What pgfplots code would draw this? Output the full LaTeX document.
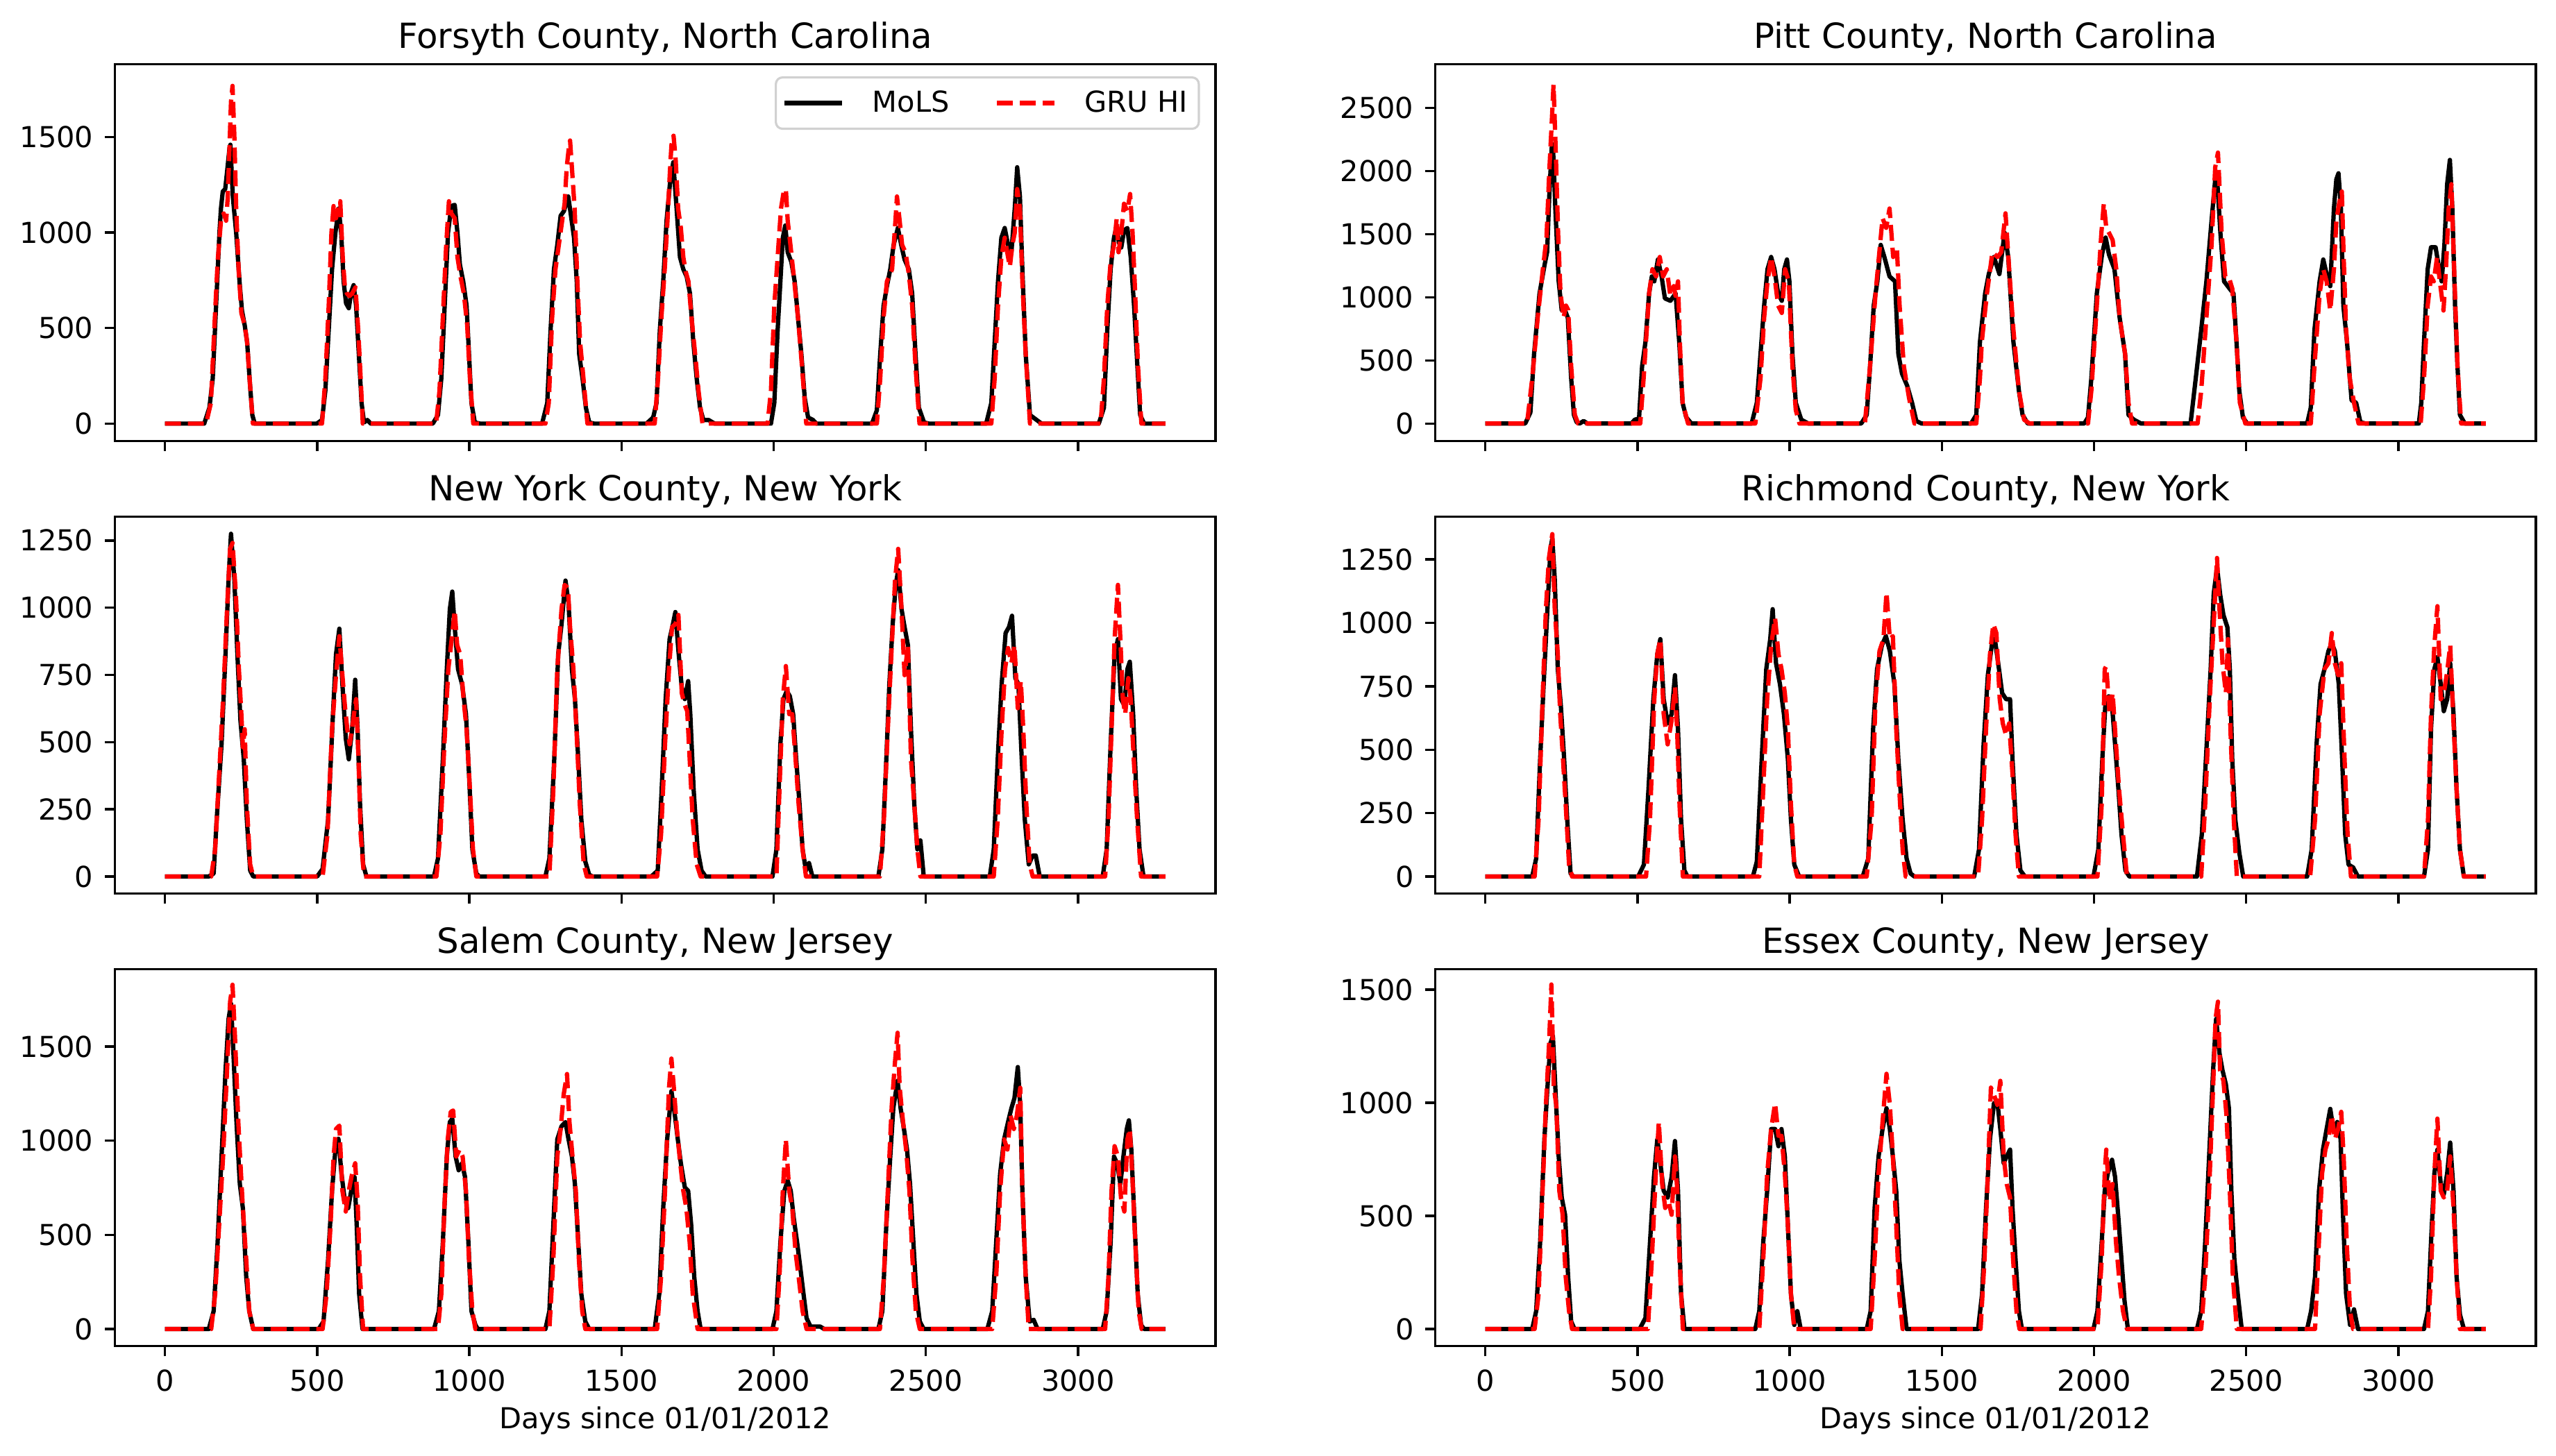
\documentclass[border=0pt]{standalone}
\usepackage{fontspec}
\setmainfont{DejaVu Sans}
\usepackage{pgfplots}
\pgfplotsset{compat=1.18}
\begin{document}
\begin{tikzpicture}
\path[use as bounding box] (-51.8pt,-49.2pt) rectangle (1100.2pt,606.9pt);
\pgfplotsset{
 panel/.style={
  scale only axis, width=496pt, height=170pt,
  xmin=-164.35, xmax=3451.35,
  axis line style={line width=1.04pt},
  tick align=outside, tick pos=left, major tick length=4.55pt,
  every tick/.style={black, line width=1.04pt},
  xtick={0,500,...,3000},
  ticklabel style={font=\fontsize{13}{15.6}\selectfont},
  yticklabel style={inner sep=0pt, xshift=-5pt},
  xticklabel style={inner sep=0pt, yshift=-6pt},
  /pgf/number format/assume math mode=true, /pgf/number format/1000 sep={},
  scaled ticks=false,
  title style={font=\fontsize{15.6}{18.7}\selectfont, at={(0.5,1)}, anchor=base, yshift=1.1pt},
  xlabel style={font=\fontsize{13}{15.6}\selectfont, at={(axis description cs:0.5,0)}, anchor=base, yshift=-37pt},
 },
 nolab/.style={xticklabels={,,,,,,}},
 mols/.style={black, line width=1.95pt, line join=round},
 gru/.style={red, line width=1.95pt, dash pattern=on 7.2pt off 3.1pt, line join=round},
}
% ---------------- Forsyth
\begin{axis}[panel, nolab, at={(0pt,408pt)}, anchor=south west,
  title={Forsyth County, North Carolina}, ymin=-92, ymax=1882, ytick={0,500,1000,1500},
  legend style={at={(0.9859,0.9676)}, anchor=north east, draw=black!18, line width=1pt, rounded corners=3pt, fill=white, fill opacity=0.8, text opacity=1, font=\fontsize{13}{15.6}\selectfont, inner xsep=3pt, inner ysep=4pt, /tikz/column 1/.style={column sep=10.6pt}, /tikz/column 2/.style={column sep=18.5pt}, /tikz/column 3/.style={column sep=10.6pt}},
  legend columns=2, legend cell align=left,
  legend image code/.code={\draw[#1] (0pt,0pt) -- (26pt,0pt);}]
\addplot[mols] coordinates {(0,0)(129,0)(146,83)(157,236)(168,617)(179,999)(184,1126)(190,1215)(198,1228)(204,1317)(212,1440)(215,1460)(223,1189)(234,999)(245,744)(253,592)(262,515)(270,426)(278,236)(287,45)(295,0)
(499,0)(516,19)(527,172)(538,490)(549,808)(560,999)(571,1126)(579,999)(587,744)(595,630)(604,604)(613,694)(620,725)(628,617)(637,363)(646,108)(654,6)(665,19)(676,0)
(880,0)(897,45)(908,236)(919,617)(930,999)(941,1139)(952,1145)(961,999)(969,833)(980,744)(991,617)(999,363)(1007,108)(1018,6)(1035,0)
(1239,0)(1256,108)(1267,490)(1278,808)(1289,935)(1300,1088)(1311,1113)(1325,1189)(1333,1100)(1344,973)(1353,744)(1361,363)(1372,236)(1383,83)(1394,6)(1410,0)
(1582,0)(1604,32)(1615,108)(1626,490)(1637,744)(1648,1062)(1659,1253)(1670,1368)(1681,1126)(1692,872)(1703,808)(1714,770)(1725,681)(1736,426)(1747,236)(1758,83)(1769,19)(1786,19)(1806,0)
(1991,0)(2002,108)(2013,490)(2022,744)(2030,973)(2038,1037)(2046,897)(2058,846)(2069,744)(2080,554)(2091,363)(2102,134)(2113,32)(2129,19)(2140,0)
(2323,0)(2339,70)(2350,363)(2361,617)(2372,719)(2383,808)(2394,935)(2408,1024)(2419,935)(2430,859)(2444,808)(2455,681)(2466,363)(2477,83)(2494,6)(2510,0)
(2698,0)(2715,108)(2726,426)(2737,744)(2748,973)(2759,1024)(2770,935)(2781,897)(2792,1126)(2800,1342)(2809,1189)(2817,808)(2828,363)(2842,45)(2858,26)(2880,0)
(3068,0)(3085,83)(3096,490)(3107,808)(3118,973)(3127,1037)(3134,948)(3142,922)(3151,1011)(3162,1024)(3173,872)(3184,617)(3195,299)(3204,45)(3217,0)(3287,0)};
\addlegendentry{MoLS}
\addplot[gru] coordinates {(0,0)(135,0)(151,108)(162,490)(173,846)(184,1062)(193,1100)(201,1062)(206,1177)(212,1444)(217,1686)(222,1768)(228,1507)(234,1126)(242,808)(251,579)(262,515)(270,426)(278,236)(289,0)
(516,0)(527,236)(538,617)(547,999)(554,1139)(562,1075)(569,1126)(576,1164)(584,872)(591,719)(598,681)(606,668)(615,681)(626,713)(635,490)(643,236)(650,0)
(891,0)(902,172)(913,554)(924,935)(933,1164)(941,1100)(952,1075)(961,872)(971,770)(982,681)(993,515)(1002,236)(1013,0)
(1250,0)(1261,108)(1272,554)(1283,808)(1294,935)(1305,1062)(1313,1151)(1320,1342)(1327,1444)(1331,1482)(1338,1317)(1346,1126)(1355,744)(1364,426)(1375,236)(1388,0)
(1609,0)(1620,236)(1631,554)(1642,808)(1651,1062)(1659,1317)(1664,1457)(1671,1507)(1678,1380)(1686,1126)(1695,1024)(1703,872)(1711,795)(1720,744)(1730,554)(1742,363)(1753,172)(1766,0)
(1980,0)(1991,172)(2002,617)(2013,872)(2024,1126)(2033,1215)(2040,1228)(2046,1062)(2055,935)(2066,770)(2080,554)(2093,299)(2107,0)
(2339,0)(2350,236)(2361,554)(2372,744)(2389,808)(2400,1062)(2405,1189)(2413,1075)(2422,935)(2433,897)(2444,783)(2455,617)(2466,299)(2479,0)
(2715,0)(2726,236)(2737,617)(2748,872)(2759,973)(2770,872)(2776,821)(2784,935)(2792,999)(2800,1228)(2809,1126)(2817,744)(2828,363)(2842,0)
(3074,0)(3085,236)(3096,617)(3107,846)(3118,935)(3127,1075)(3133,897)(3142,999)(3151,1151)(3162,1113)(3171,1202)(3179,999)(3186,744)(3197,299)(3208,0)(3287,0)};
\addlegendentry{GRU HI}
\end{axis}
% ---------------- Pitt
\begin{axis}[panel, nolab, at={(595.1pt,408pt)}, anchor=south west,
  title={Pitt County, North Carolina}, ymin=-140, ymax=2847, ytick={0,500,...,2500}]
\addplot[mols] coordinates {(0,0)(131,0)(148,87)(160,549)(178,1030)(195,1261)(203,1357)(210,1800)(218,2184)(222,2210)(230,1703)(241,1126)(251,895)(259,915)(271,838)(282,357)(291,68)(300,10)(310,0)(323,20)(335,0)
(480,0)(491,30)(505,40)(515,453)(526,645)(538,1030)(547,1165)(555,1126)(567,1299)(579,1165)(590,991)(608,972)(625,1030)(637,645)(648,164)(660,49)(677,0)
(875,0)(892,164)(904,549)(916,934)(927,1222)(939,1319)(950,1222)(962,1030)(974,972)(982,1222)(991,1299)(999,1126)(1009,549)(1020,164)(1038,30)(1061,0)
(1235,0)(1253,68)(1264,453)(1276,934)(1288,1126)(1299,1415)(1311,1319)(1328,1165)(1346,1126)(1357,549)(1369,395)(1386,299)(1402,164)(1416,20)(1433,0)
(1596,0)(1613,68)(1625,645)(1642,1030)(1654,1184)(1671,1319)(1689,1184)(1706,1511)(1718,1319)(1735,645)(1753,260)(1765,68)(1782,0)
(1968,0)(1980,49)(1991,357)(2009,1030)(2026,1338)(2038,1473)(2049,1338)(2067,1222)(2084,838)(2102,549)(2113,68)(2131,30)(2154,0)
(2317,0)(2334,357)(2352,741)(2369,1126)(2386,1607)(2398,1934)(2404,1950)(2415,1511)(2427,1126)(2445,1069)(2458,1030)(2468,645)(2477,260)(2489,49)(2503,0)
(2700,0)(2712,126)(2724,741)(2741,1126)(2753,1299)(2764,1184)(2776,1088)(2788,1703)(2796,1934)(2803,1982)(2811,1703)(2819,934)(2831,645)(2846,183)(2861,164)(2875,10)(2892,0)
(3067,0)(3075,164)(3084,645)(3096,1222)(3107,1396)(3122,1396)(3130,1280)(3142,1126)(3151,1415)(3160,1896)(3169,2088)(3177,1703)(3186,934)(3194,453)(3202,68)(3218,0)(3287,0)};
\addplot[gru] coordinates {(0,0)(137,0)(154,357)(172,838)(189,1222)(201,1473)(210,1992)(218,2377)(224,2685)(231,2184)(239,1511)(247,1030)(257,838)(265,934)(272,900)(282,453)(294,68)(305,0)
(509,0)(520,357)(538,1030)(549,1222)(561,1165)(573,1319)(584,1165)(596,1222)(608,1011)(619,1088)(625,1011)(633,1126)(639,645)(648,164)(666,0)
(887,0)(904,357)(916,838)(927,1126)(939,1319)(950,1165)(962,934)(974,876)(985,1222)(997,1126)(1009,453)(1020,106)(1032,0)
(1247,0)(1264,453)(1282,1030)(1299,1473)(1305,1627)(1317,1550)(1328,1703)(1340,1319)(1352,1396)(1361,934)(1375,453)(1392,203)(1410,0)
(1613,0)(1625,357)(1631,645)(1648,1030)(1666,1357)(1683,1319)(1695,1357)(1709,1665)(1721,1222)(1735,741)(1753,260)(1770,30)(1788,0)
(1980,0)(1991,260)(2009,934)(2024,1511)(2032,1742)(2040,1550)(2049,1511)(2061,1453)(2073,1222)(2084,838)(2102,549)(2113,164)(2125,0)
(2340,0)(2352,260)(2369,838)(2386,1415)(2398,2030)(2407,2146)(2419,1511)(2431,1165)(2442,1165)(2454,1069)(2468,645)(2479,164)(2497,0)
(2712,0)(2724,453)(2741,1030)(2753,1222)(2764,1126)(2776,895)(2788,1222)(2796,1607)(2805,1742)(2814,1838)(2820,1319)(2828,741)(2840,357)(2854,164)(2869,0)
(3073,0)(3084,357)(3096,934)(3107,1165)(3116,1126)(3127,1319)(3136,1126)(3148,895)(3156,1222)(3165,1703)(3174,1896)(3183,1222)(3194,453)(3206,0)(3287,0)};
\end{axis}
% ---------------- New York
\begin{axis}[panel, nolab, at={(0pt,204pt)}, anchor=south west,
  title={New York County, New York}, ymin=-64, ymax=1339, ytick={0,250,...,1250}]
\addplot[mols] coordinates {(0,0)(144,0)(160,11)(170,212)(186,492)(199,827)(209,1107)(217,1275)(228,1107)(238,827)(248,581)(259,436)(269,212)(280,22)(290,0)
(500,0)(518,28)(536,212)(552,604)(562,827)(573,922)(583,716)(594,514)(604,436)(615,548)(625,732)(633,548)(641,268)(651,45)(662,0)
(884,0)(897,67)(913,436)(926,771)(936,995)(944,1060)(952,928)(963,771)(976,716)(989,604)(999,380)(1010,101)(1023,11)(1033,0)
(1250,0)(1263,67)(1279,436)(1292,827)(1303,939)(1316,1101)(1326,1017)(1337,771)(1347,660)(1358,436)(1368,212)(1381,56)(1394,6)(1405,0)
(1598,0)(1619,22)(1632,324)(1645,660)(1658,883)(1669,939)(1677,984)(1687,839)(1698,704)(1708,660)(1719,727)(1726,604)(1737,324)(1750,101)(1763,22)(1776,0)
(1996,0)(2009,101)(2022,492)(2032,660)(2043,690)(2053,671)(2064,604)(2074,436)(2085,268)(2095,101)(2106,22)(2116,50)(2127,0)
(2344,0)(2357,101)(2370,436)(2380,716)(2391,939)(2401,1085)(2409,1140)(2420,995)(2430,928)(2441,861)(2451,548)(2462,268)(2472,101)(2482,134)(2493,0)
(2710,0)(2723,101)(2736,436)(2749,716)(2762,906)(2773,928)(2783,970)(2794,738)(2804,716)(2815,436)(2825,212)(2838,45)(2851,78)(2861,78)(2874,0)
(3081,0)(3094,101)(3107,492)(3120,827)(3131,883)(3141,660)(3152,637)(3162,771)(3170,799)(3181,604)(3191,324)(3202,101)(3215,0)(3287,0)};
\addplot[gru] coordinates {(0,0)(152,0)(165,101)(178,380)(191,660)(204,995)(214,1219)(222,1241)(233,1051)(243,771)(251,604)(256,481)(262,548)(269,268)(280,45)(290,0)
(518,0)(534,157)(549,548)(562,749)(573,894)(583,749)(591,637)(599,548)(607,492)(617,570)(628,660)(636,436)(643,157)(654,0)
(892,0)(905,157)(918,492)(931,771)(942,883)(952,990)(960,861)(970,827)(981,660)(991,548)(1002,324)(1012,101)(1023,0)
(1263,0)(1276,324)(1289,771)(1303,995)(1313,1085)(1324,1073)(1331,928)(1342,771)(1352,548)(1363,268)(1376,45)(1386,0)
(1617,0)(1630,157)(1643,492)(1656,771)(1666,928)(1677,939)(1687,973)(1698,682)(1708,637)(1716,615)(1724,436)(1734,212)(1747,45)(1760,0)
(2009,0)(2019,324)(2030,660)(2040,783)(2051,604)(2061,604)(2072,436)(2082,268)(2095,101)(2106,0)
(2349,0)(2362,212)(2375,548)(2388,861)(2399,1107)(2409,1219)(2420,995)(2430,749)(2441,861)(2451,436)(2462,268)(2472,101)(2482,0)
(2723,0)(2736,212)(2749,548)(2760,771)(2770,850)(2781,794)(2791,861)(2802,626)(2812,727)(2820,548)(2830,268)(2841,45)(2851,0)
(3089,0)(3100,212)(3110,548)(3120,883)(3131,1085)(3139,883)(3147,660)(3155,604)(3165,738)(3173,660)(3183,436)(3194,212)(3207,0)(3287,0)};
\end{axis}
% ---------------- Richmond
\begin{axis}[panel, nolab, at={(595.1pt,204pt)}, anchor=south west,
  title={Richmond County, New York}, ymin=-67.5, ymax=1419, ytick={0,250,...,1250}]
\addplot[mols] coordinates {(0,0)(154,0)(167,71)(180,462)(194,818)(204,1055)(214,1291)(220,1333)(228,1173)(238,818)(248,675)(259,462)(269,225)(280,12)(290,0)
(502,0)(521,47)(536,344)(552,699)(565,877)(575,936)(586,699)(599,604)(612,640)(623,794)(633,581)(643,225)(654,24)(664,0)
(879,0)(892,59)(908,462)(923,818)(936,936)(944,1054)(955,841)(968,758)(981,640)(994,462)(1004,225)(1015,47)(1031,0)
(1240,0)(1258,71)(1274,581)(1287,818)(1303,912)(1316,948)(1329,889)(1344,758)(1357,462)(1371,225)(1384,71)(1397,12)(1410,0)
(1606,0)(1622,107)(1637,521)(1651,794)(1664,912)(1674,936)(1685,841)(1698,723)(1711,699)(1724,699)(1732,462)(1745,166)(1758,24)(1773,0)
(1998,0)(2014,107)(2027,462)(2038,699)(2048,711)(2059,675)(2069,521)(2080,344)(2090,166)(2103,24)(2116,0)
(2338,0)(2354,166)(2370,521)(2383,818)(2393,1114)(2404,1220)(2414,1114)(2425,1031)(2438,983)(2446,818)(2454,462)(2464,225)(2477,95)(2490,0)
(2700,0)(2715,107)(2731,521)(2744,758)(2757,818)(2770,889)(2781,920)(2791,889)(2804,758)(2815,462)(2825,166)(2836,47)(2851,36)(2867,0)
(3084,0)(3097,107)(3107,581)(3118,818)(3128,865)(3139,758)(3149,652)(3160,699)(3170,841)(3181,640)(3191,344)(3202,107)(3215,0)(3287,0)};
\addplot[gru] coordinates {(0,0)(162,0)(175,225)(188,699)(199,1055)(209,1256)(220,1350)(228,1055)(238,877)(246,640)(254,486)(264,284)(275,47)(285,0)
(528,0)(541,225)(555,699)(565,877)(575,936)(586,640)(599,521)(612,616)(623,746)(630,581)(638,284)(649,0)
(900,0)(913,344)(926,699)(939,912)(952,1019)(963,877)(973,818)(984,723)(994,581)(1004,284)(1015,47)(1025,0)
(1253,0)(1269,225)(1282,699)(1295,889)(1308,936)(1318,1120)(1329,936)(1339,948)(1350,581)(1360,344)(1371,107)(1381,0)
(1619,0)(1632,225)(1645,581)(1658,877)(1669,995)(1679,960)(1690,699)(1700,604)(1711,557)(1721,604)(1732,403)(1742,166)(1753,0)
(2011,0)(2025,284)(2035,818)(2040,829)(2051,640)(2061,723)(2072,521)(2082,344)(2095,166)(2108,0)
(2352,0)(2365,284)(2380,699)(2393,995)(2404,1256)(2412,1055)(2422,841)(2433,723)(2440,936)(2448,581)(2459,225)(2469,0)
(2710,0)(2726,225)(2741,640)(2757,818)(2770,841)(2781,960)(2791,841)(2802,794)(2812,841)(2823,462)(2833,166)(2844,0)
(3084,0)(3097,225)(3107,640)(3118,912)(3128,1066)(3139,699)(3149,723)(3160,806)(3170,912)(3181,604)(3191,344)(3202,107)(3215,0)(3287,0)};
\end{axis}
% ---------------- Salem
\begin{axis}[panel, at={(0pt,0pt)}, anchor=south west,
  title={Salem County, New Jersey}, ymin=-91, ymax=1911, ytick={0,500,1000,1500},
  xlabel={Days since 01/01/2012}]
\addplot[mols] coordinates {(0,0)(144,0)(160,95)(173,460)(186,916)(199,1372)(209,1646)(217,1728)(225,1464)(235,1099)(246,770)(256,642)(267,277)(277,95)(290,0)
(505,0)(521,40)(536,369)(549,734)(560,953)(570,1010)(580,825)(591,679)(602,642)(612,734)(623,807)(630,551)(638,186)(649,0)
(884,0)(900,95)(913,460)(926,916)(936,1099)(944,1117)(955,916)(965,843)(976,880)(986,807)(997,460)(1007,95)(1020,22)(1028,0)
(1250,0)(1263,95)(1276,551)(1289,1007)(1303,1077)(1316,1099)(1326,1007)(1337,916)(1347,770)(1358,460)(1368,186)(1381,40)(1394,0)
(1609,0)(1624,186)(1637,642)(1650,1007)(1664,1263)(1674,1153)(1685,1007)(1695,880)(1708,752)(1719,734)(1729,551)(1739,277)(1750,95)(1760,0)
(1996,0)(2009,95)(2022,460)(2035,734)(2046,788)(2056,734)(2066,588)(2077,460)(2087,332)(2098,186)(2108,58)(2121,13)(2153,13)(2166,0)
(2344,0)(2357,95)(2370,551)(2383,916)(2393,1172)(2407,1318)(2417,1172)(2428,1062)(2438,953)(2448,770)(2459,460)(2469,186)(2480,40)(2493,0)
(2702,0)(2718,95)(2731,460)(2744,825)(2757,1007)(2770,1099)(2781,1172)(2791,1226)(2802,1391)(2810,1190)(2817,734)(2828,277)(2841,40)(2854,49)(2867,0)
(3081,0)(3094,95)(3107,460)(3118,916)(3128,880)(3139,770)(3149,916)(3160,1062)(3167,1108)(3175,953)(3186,551)(3196,186)(3207,22)(3217,0)(3287,0)};
\addplot[gru] coordinates {(0,0)(152,0)(165,186)(178,551)(191,916)(204,1372)(214,1737)(222,1828)(230,1555)(241,1099)(248,880)(256,642)(267,369)(277,95)(290,0)
(518,0)(531,186)(544,551)(554,916)(562,1062)(573,1080)(583,734)(594,624)(604,734)(615,825)(625,880)(633,679)(641,277)(651,0)
(897,0)(908,186)(918,642)(929,1007)(939,1153)(947,1160)(957,916)(968,953)(978,916)(989,734)(999,369)(1010,95)(1020,0)
(1263,0)(1276,369)(1289,916)(1300,1062)(1310,1245)(1321,1354)(1329,1099)(1339,916)(1350,734)(1360,369)(1371,95)(1381,0)
(1617,0)(1630,277)(1643,734)(1656,1281)(1664,1436)(1672,1281)(1682,1062)(1693,880)(1703,734)(1713,642)(1724,460)(1734,186)(1750,0)
(2009,0)(2019,277)(2030,734)(2040,1007)(2051,734)(2061,642)(2072,405)(2082,277)(2095,95)(2108,0)
(2349,0)(2362,277)(2375,734)(2388,1190)(2399,1427)(2407,1573)(2414,1281)(2425,1099)(2435,953)(2446,734)(2456,369)(2467,95)(2480,0)
(2718,0)(2731,277)(2744,734)(2757,1007)(2768,953)(2778,1135)(2789,1062)(2799,1135)(2810,1281)(2817,734)(2828,277)(2838,0)
(3089,0)(3100,277)(3110,734)(3120,971)(3131,916)(3141,697)(3152,624)(3162,1007)(3170,1062)(3178,825)(3188,460)(3199,95)(3209,0)(3287,0)};
\end{axis}
% ---------------- Essex
\begin{axis}[panel, at={(595.1pt,0pt)}, anchor=south west,
  title={Essex County, New Jersey}, ymin=-76, ymax=1591, ytick={0,500,1000,1500},
  xlabel={Days since 01/01/2012}]
\addplot[mols] coordinates {(0,0)(154,0)(167,79)(180,383)(194,839)(204,1067)(214,1264)(222,1295)(230,1067)(241,763)(251,581)(262,505)(272,231)(282,33)(293,0)
(507,0)(526,49)(541,383)(554,672)(565,839)(575,733)(586,611)(599,581)(612,672)(623,831)(633,611)(643,155)(654,0)
(887,0)(900,79)(913,383)(926,611)(939,884)(952,884)(963,808)(973,884)(984,763)(994,459)(1004,155)(1015,18)(1025,79)(1036,0)
(1253,0)(1266,79)(1279,535)(1292,763)(1305,884)(1318,976)(1329,884)(1339,763)(1350,611)(1360,307)(1371,155)(1384,0)
(1619,0)(1632,155)(1645,535)(1658,839)(1671,998)(1682,1006)(1692,884)(1703,733)(1713,763)(1724,793)(1732,535)(1742,307)(1753,79)(1763,0)
(1998,0)(2011,79)(2025,383)(2035,611)(2045,687)(2059,748)(2069,672)(2080,489)(2090,307)(2100,125)(2111,0)
(2338,0)(2352,79)(2365,383)(2378,763)(2391,1143)(2401,1371)(2412,1219)(2422,1143)(2433,1082)(2443,976)(2451,611)(2461,307)(2472,155)(2485,0)
(2700,0)(2713,79)(2726,231)(2739,611)(2752,793)(2762,869)(2776,973)(2786,884)(2799,915)(2810,839)(2817,535)(2828,155)(2841,18)(2854,87)(2867,0)
(3084,0)(3097,79)(3107,383)(3118,687)(3128,793)(3139,641)(3149,596)(3160,687)(3170,824)(3181,611)(3191,231)(3202,64)(3215,0)(3287,0)};
\addplot[gru] coordinates {(0,0)(162,0)(175,155)(188,611)(199,991)(209,1249)(217,1523)(225,1067)(233,991)(243,611)(254,505)(264,231)(275,79)(285,0)
(534,0)(547,307)(560,687)(570,915)(581,641)(591,535)(602,565)(612,505)(623,763)(630,626)(638,307)(649,0)
(900,0)(913,307)(926,687)(939,884)(952,998)(963,854)(973,854)(984,687)(994,459)(1004,155)(1015,0)
(1266,0)(1279,307)(1292,687)(1305,915)(1318,1128)(1329,991)(1339,763)(1350,459)(1360,155)(1371,0)
(1627,0)(1640,307)(1651,687)(1661,1067)(1671,1036)(1682,991)(1692,1097)(1703,763)(1713,641)(1724,581)(1734,307)(1745,79)(1755,0)
(2011,0)(2025,307)(2035,687)(2040,793)(2051,565)(2061,641)(2072,383)(2082,231)(2095,79)(2108,0)
(2352,0)(2365,231)(2378,611)(2391,1067)(2399,1371)(2407,1447)(2414,1143)(2425,1097)(2435,945)(2446,611)(2456,231)(2469,0)
(2726,0)(2736,307)(2749,687)(2760,793)(2770,839)(2781,945)(2791,839)(2802,884)(2812,960)(2820,763)(2830,383)(2841,79)(2851,0)
(3097,0)(3107,231)(3118,687)(3128,930)(3139,611)(3149,581)(3160,611)(3170,763)(3181,535)(3191,231)(3202,0)(3287,0)};
\end{axis}
\end{tikzpicture}
\end{document}
